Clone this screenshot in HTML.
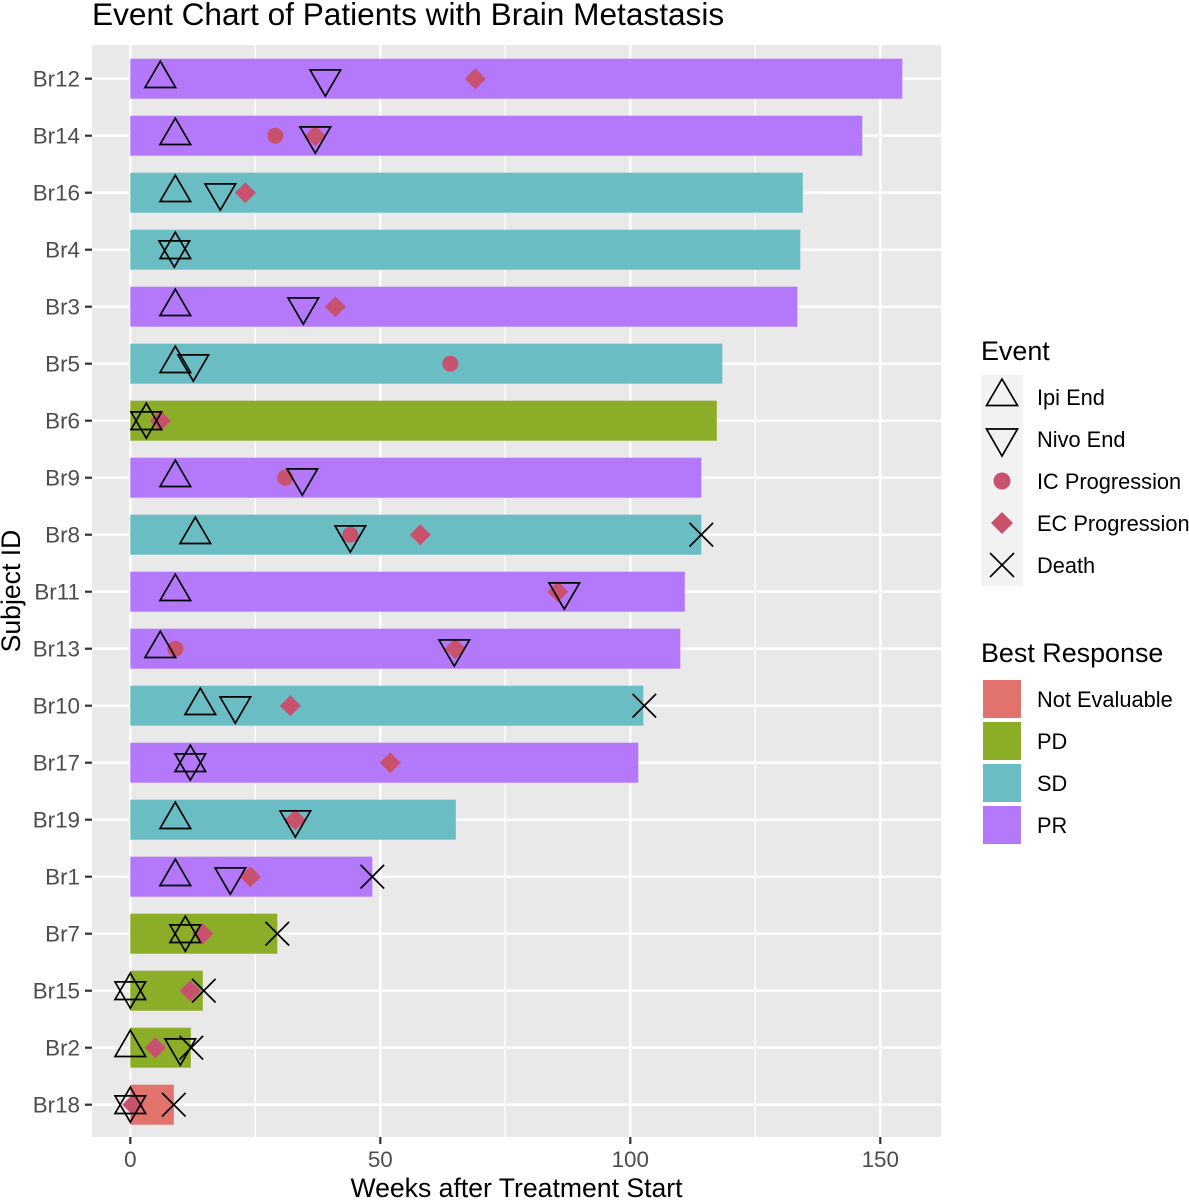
<!DOCTYPE html>
<html>
<head>
<meta charset="utf-8">
<title>Event Chart of Patients with Brain Metastasis</title>
<style>
html,body{margin:0;padding:0;background:#fff;}
body{width:1189px;height:1200px;overflow:hidden;}
svg{display:block;font-family:"Liberation Sans",Arial,sans-serif;}
</style>
</head>
<body>
<svg id="chart" xmlns="http://www.w3.org/2000/svg" width="1189" height="1200" viewBox="0 0 1189 1200">
  <text x="92" y="25" font-size="31.6" fill="#000">Event Chart of Patients with Brain Metastasis</text>
  <rect x="92" y="45" width="849" height="1092" fill="#E9E9E9"/>
  <g id="grid"></g>
  <g id="bars"></g>
  <g id="marks"></g>
  <g id="axes"></g>
  <text transform="translate(20,591) rotate(-90)" text-anchor="middle" font-size="26.6" fill="#000">Subject ID</text>
  <text x="516.5" y="1197" text-anchor="middle" font-size="26.6" fill="#000">Weeks after Treatment Start</text>

  <g>
    <text x="981" y="360" font-size="26.9" fill="#000">Event</text>
    <rect x="981" y="375" width="42" height="211" fill="#F2F2F2"/>
    <polygon points="1002,379 1017.5,405.5 986.5,405.5" fill="none" stroke="#000" stroke-width="1.7"/>
    <polygon points="986.5,429 1017.5,429 1002,456" fill="none" stroke="#000" stroke-width="1.7"/>
    <circle cx="1002" cy="481" r="8.5" fill="#C8516E"/>
    <polygon points="1002,512 1013,523 1002,534 991,523" fill="#C8516E"/>
    <path d="M990,553L1014,577M1014,553L990,577" stroke="#000" stroke-width="1.7" fill="none"/>
    <text x="1037" y="405" font-size="21.8" fill="#000">Ipi End</text>
    <text x="1037" y="447" font-size="21.8" fill="#000">Nivo End</text>
    <text x="1037" y="489" font-size="21.8" fill="#000">IC Progression</text>
    <text x="1037" y="531" font-size="21.8" fill="#000">EC Progression</text>
    <text x="1037" y="573" font-size="21.8" fill="#000">Death</text>
  </g>

  <g>
    <text x="981" y="662" font-size="26.9" fill="#000">Best Response</text>
    <rect x="983" y="680" width="38" height="38" fill="#E2736C"/>
    <rect x="983" y="722" width="38" height="38" fill="#8BAD27"/>
    <rect x="983" y="764" width="38" height="38" fill="#6BBDC4"/>
    <rect x="983" y="806" width="38" height="38" fill="#B478FB"/>
    <text x="1037" y="707" font-size="21.8" fill="#000">Not Evaluable</text>
    <text x="1037" y="749" font-size="21.8" fill="#000">PD</text>
    <text x="1037" y="791" font-size="21.8" fill="#000">SD</text>
    <text x="1037" y="833" font-size="21.8" fill="#000">PR</text>
  </g>
</svg>
<script>
var subjects = ["Br12","Br14","Br16","Br4","Br3","Br5","Br6","Br9","Br8","Br11","Br13","Br10","Br17","Br19","Br1","Br7","Br15","Br2","Br18"];
var weeksOnStudy = [154.4,146.4,134.5,134,133.4,118.4,117.3,114.2,114.2,110.9,110,102.6,101.6,65.1,48.4,29.4,14.5,12.1,8.7];
var bestResponse = ["PR","PR","SD","SD","PR","SD","PD","PR","SD","PR","PR","SD","PR","SD","PR","PD","PD","PD","NE"];
var ipiEnd = [6,9,9,9,9,9,3.2,9,13,9,6,14,12,9,9,11,0,0,0];
var nivoEnd = [39,37,18,8.8,34.6,12.6,3.2,34.4,44,86.8,64.8,21,12,33,20,11,0,10,0];
var icProgression = [null,29,null,null,null,64,null,31,44,null,9,null,null,null,null,null,null,null,null];
var ecProgression = [69,37,23,null,41,null,6,null,58,85.5,65,32,52,33,24,14.5,12,5,0.5];
var death = [null,null,null,null,null,null,null,null,114.2,null,null,102.8,null,null,48.4,29.4,14.7,12.2,8.7];
var xMajorTicks = [0,50,100,150];
var xMinorTicks = [25,75,125];

var responseColors = {NE:"#E2736C",PD:"#8BAD27",SD:"#6BBDC4",PR:"#B478FB"};
var markerColor = "#C8516E";
var NS = "http://www.w3.org/2000/svg";

function xScale(v){return 130.3 + v * 5;}
function yScale(i){return 78.7 + i * 57;}

function make(parent,tag,attrs){
  var el = document.createElementNS(NS,tag);
  for (var k in attrs){el.setAttribute(k,attrs[k]);}
  parent.appendChild(el);
  return el;
}

var gridG = document.getElementById("grid");
var barsG = document.getElementById("bars");
var marksG = document.getElementById("marks");
var axesG = document.getElementById("axes");

xMinorTicks.forEach(function(t){
  var l = make(gridG,"line",{x1:xScale(t),x2:xScale(t),y1:45,y2:1137,stroke:"#fff","stroke-width":1.4});
  
  
});
xMajorTicks.forEach(function(t){
  var l = make(gridG,"line",{x1:xScale(t),x2:xScale(t),y1:45,y2:1137,stroke:"#fff","stroke-width":2.4});
  
  
  var tick = make(axesG,"line",{x1:xScale(t),x2:xScale(t),y1:1137,y2:1144,stroke:"#333","stroke-width":2.2});
  
  
  var lab = make(axesG,"text",{x:xScale(t),y:1167,"text-anchor":"middle","font-size":22.4,fill:"#4D4D4D"});
  
  
  lab.textContent = t;
});

subjects.forEach(function(s,i){
  var y = yScale(i);
  var g = make(gridG,"line",{x1:92,x2:941,y1:y,y2:y,stroke:"#fff","stroke-width":2.4});
  
  

  var bar = make(barsG,"rect",{x:xScale(0),y:y-20,width:xScale(weeksOnStudy[i])-xScale(0),height:40,fill:responseColors[bestResponse[i]]});
  
  

  var tick = make(axesG,"line",{x1:85,x2:92,y1:y,y2:y,stroke:"#333","stroke-width":2.2});
  
  
  var lab = make(axesG,"text",{x:80,y:y+7.8,"text-anchor":"end","font-size":22.4,fill:"#4D4D4D"});
  
  
  lab.textContent = s;
});

subjects.forEach(function(s,i){
  var y = yScale(i);
  if (icProgression[i] !== null){
    var c = make(marksG,"circle",{cx:xScale(icProgression[i]),cy:y,r:8,fill:markerColor});
    
    
  }
  if (ecProgression[i] !== null){
    var x = xScale(ecProgression[i]);
    var d = make(marksG,"polygon",{points:x+","+(y-10.5)+" "+(x+10.5)+","+y+" "+x+","+(y+10.5)+" "+(x-10.5)+","+y,fill:markerColor});
    
    
  }
});

subjects.forEach(function(s,i){
  var y = yScale(i);
  var ux = xScale(ipiEnd[i]);
  var up = make(marksG,"polygon",{points:ux+","+(y-17.5)+" "+(ux+15.3)+","+(y+8.8)+" "+(ux-15.3)+","+(y+8.8),fill:"none",stroke:"#000","stroke-width":1.7});
  
  

  var nx = xScale(nivoEnd[i]);
  var dn = make(marksG,"polygon",{points:(nx-15.3)+","+(y-8.8)+" "+(nx+15.3)+","+(y-8.8)+" "+nx+","+(y+17.5),fill:"none",stroke:"#000","stroke-width":1.7});
  
  

  if (death[i] !== null){
    var dx = xScale(death[i]);
    var r = 11.8;
    var p = make(marksG,"path",{d:"M"+(dx-r)+","+(y-r)+"L"+(dx+r)+","+(y+r)+"M"+(dx+r)+","+(y-r)+"L"+(dx-r)+","+(y+r),fill:"none",stroke:"#000","stroke-width":1.7});
    
    
  }
});
</script>
</body>
</html>
